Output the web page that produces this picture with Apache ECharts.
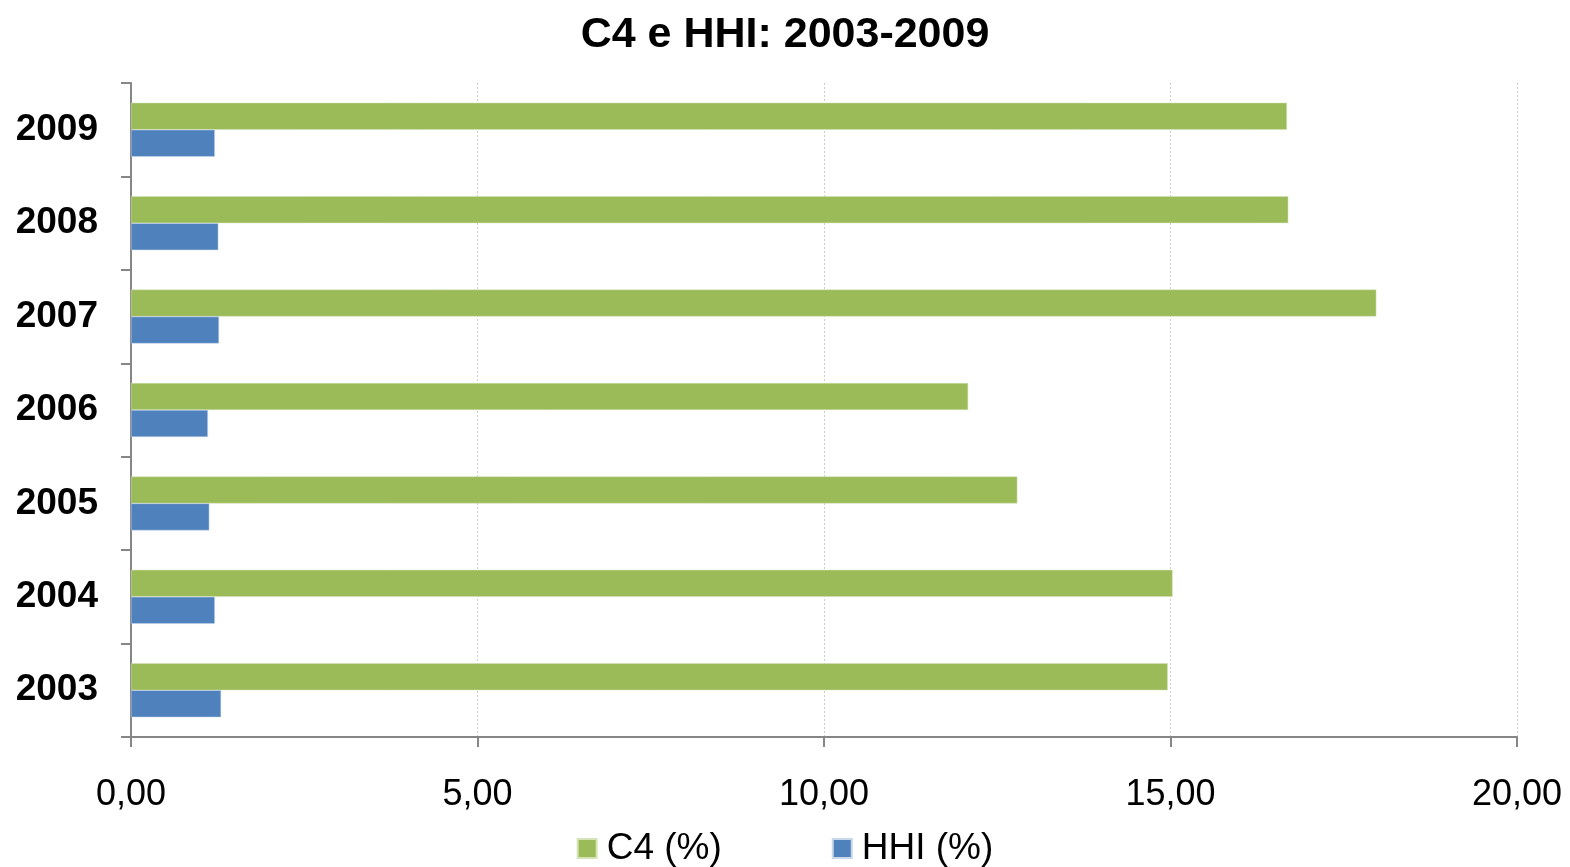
<!DOCTYPE html>
<html>
<head>
<meta charset="utf-8">
<script src="https://cdn.jsdelivr.net/npm/echarts@6/dist/echarts.min.js"></script>
<style>
  html, body { margin: 0; padding: 0; background: #fff; }
  #myChart { width: 1570px; height: 867px; }
</style>
</head>
<body>
<div id="myChart"></div>
<script>
const years = ["2003", "2004", "2005", "2006", "2007", "2008", "2009"];
const c4 = [14.96, 15.03, 12.79, 12.08, 17.97, 16.70, 16.68];
const hhi = [1.30, 1.21, 1.13, 1.11, 1.27, 1.26, 1.21];

const font = "Liberation Sans, Arial, sans-serif";
const axisGray = "#868686";

let chart = echarts.init(document.getElementById("myChart"));
chart.setOption({
   animation: false,
   title: {
      text: "C4 e HHI: 2003-2009",
      left: "center",
      top: 9,
      textStyle: { fontFamily: font, fontSize: 43, fontWeight: "bold", color: "#000" }
   },
   legend: {
      bottom: -5,
      left: "center",
      itemWidth: 19,
      itemHeight: 19,
      itemGap: 110,
      icon: "rect",
      textStyle: { fontFamily: font, fontSize: 37, color: "#000", padding: [0, 0, 0, 5] },
      data: ["C4 (%)", "HHI (%)"]
   },
   grid: { left: 131, right: 53, top: 83, bottom: 130 },
   xAxis: {
      type: "value",
      min: 0,
      max: 20,
      interval: 5,
      axisLine: { show: true, lineStyle: { color: axisGray, width: 2 } },
      axisTick: { show: true, length: 10, lineStyle: { color: axisGray, width: 2 } },
      splitLine: { show: true, lineStyle: { color: "#cccccc", type: [2, 2], width: 1 } },
      axisLabel: {
         fontFamily: font, fontSize: 36, color: "#000", margin: 40,
         formatter: v => v.toFixed(2).replace(".", ",")
      }
   },
   yAxis: {
      type: "category",
      data: years,
      axisLine: { show: true, lineStyle: { color: axisGray, width: 2 } },
      axisTick: { show: true, length: 10, lineStyle: { color: axisGray, width: 2 } },
      axisLabel: { fontFamily: font, fontSize: 37, fontWeight: "bold", color: "#000", margin: 33 }
   },
   series: [
      {
         name: "C4 (%)",
         type: "bar",
         data: c4,
         barWidth: 27,
         barGap: "0%",
         itemStyle: { color: "#9BBB59", borderColor: "#d5e3b9", borderWidth: 0.5 }
      },
      {
         name: "HHI (%)",
         type: "bar",
         data: hhi,
         barWidth: 27,
         barGap: "0%",
         itemStyle: { color: "#4F81BD", borderColor: "#c9d7ea", borderWidth: 0.5 }
      }
   ]
});
</script>
</body>
</html>
